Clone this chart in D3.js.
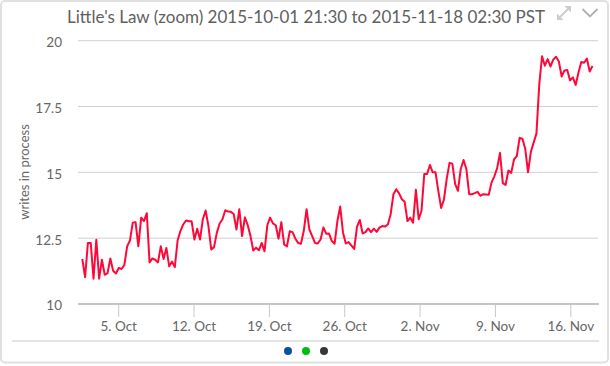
<!DOCTYPE html>
<html>
<head>
<meta charset="utf-8">
<script src="https://cdn.jsdelivr.net/npm/d3@7"></script>
<style>
  html, body { margin: 0; padding: 0; background: #fff; }
  #chart { width: 610px; height: 366px; }
</style>
</head>
<body>
<div id="chart"></div>
<script>
// writes in process, one reading about every 6h15m from the first sample on
var firstSample = Date.UTC(2015, 9, 1, 16, 0)
var sampleStepHours = 6.25

var writesInProcess = [
  11.71, 11.02, 12.32, 12.32, 10.96, 12.44, 10.96, 11.68, 11.11, 11.17,
  11.73, 11.26, 11.16, 11.37, 11.33, 11.48, 12.19, 12.41, 13.09, 13.11,
  12.19, 13.28, 13.15, 13.45, 11.58, 11.73, 11.68, 11.58, 12.19, 11.71,
  12.13, 11.43, 11.61, 11.40, 12.41, 12.77, 13.02, 13.17, 13.14, 13.14,
  12.45, 12.86, 12.45, 13.22, 13.55, 12.96, 12.07, 12.16, 12.71, 13.06,
  13.22, 13.56, 13.51, 13.50, 13.42, 12.83, 13.60, 12.58, 13.29, 13.00,
  12.58, 12.03,
  12.14, 12.04, 12.32, 12.00, 12.99, 13.28, 13.06, 12.99, 12.48, 13.11,
  12.26, 12.19, 12.76, 12.73, 12.48, 12.32, 12.29, 12.77, 13.60, 12.83,
  12.58, 12.32, 12.30, 12.45, 12.91, 12.67, 12.68, 12.39, 12.29, 13.15,
  13.70, 12.71, 12.30, 12.35, 12.22, 12.09, 12.94, 13.19, 12.68, 12.73,
  12.87, 12.73, 12.86, 12.74, 12.90, 12.96, 12.94, 13.02, 13.41, 14.17,
  14.36, 14.20, 13.98, 13.88,
  13.15, 13.28, 13.09, 14.34, 13.22, 13.54, 14.94, 14.94, 15.28, 15.00,
  15.00, 14.30, 13.65, 13.96, 14.75, 15.36, 15.33, 14.56, 14.30, 15.13,
  15.47, 15.13, 14.17, 14.17, 14.21, 14.26, 14.11, 14.17, 14.16, 14.15,
  14.62, 14.85, 15.16, 15.74, 14.59, 14.52, 15.07, 14.98, 15.49, 15.62,
  16.31, 16.28, 15.90, 15.00, 15.77, 16.13, 16.47, 18.32, 19.41, 19.05,
  19.30, 19.02, 19.28, 19.39, 19.21, 18.64, 18.87, 18.89, 18.49, 18.61,
  18.32, 18.79, 19.19, 19.16, 19.32, 18.83, 19.04
]

var yTicks = [10, 12.5, 15, 17.5, 20]
var legendColors = ['#0b4fa6', '#00bb11', '#383838']

var titleText = "Little's Law (zoom) 2015-10-01 21:30 to 2015-11-18 02:30 PST"
var yTitle = 'writes in process'

const layout = {
    width: 610,
    height: 366,
    plot: { left: 78, right: 598, top: 40.7, bottom: 304 },
    lineStart: 82.3,
    lineEnd: 592.5
}

var data = writesInProcess.map(function(v, i) {
    return { t: new Date(firstSample + i * sampleStepHours * 3600 * 1000), v: v }
})

var svg = d3.select('#chart').append('svg')
    .attr('width', layout.width)
    .attr('height', layout.height)
    .style('font-family', 'Lato, "Open Sans", sans-serif')

// panel
svg.append('rect')
    .attr('x', 1).attr('y', 1)
    .attr('width', layout.width - 3).attr('height', 361.5)
    .attr('rx', 4)
    .attr('fill', '#fff')
    .attr('stroke', '#e0e0e0')
    .attr('stroke-width', 2)

svg.append('text')
    .attr('x', 306).attr('y', 23)
    .attr('text-anchor', 'middle')
    .attr('font-size', 17)
    .attr('fill', '#606060')
    .text(titleText)

// expand + collapse icons
var icons = svg.append('g')
icons.append('line')
    .attr('x1', 560).attr('y1', 17).attr('x2', 568).attr('y2', 9)
    .attr('stroke', '#cccccc').attr('stroke-width', 2)
icons.append('path')
    .attr('d', 'M557,20 L557,13.5 L563.5,20 Z M571,6 L571,12.5 L564.5,6 Z')
    .attr('fill', '#cccccc')
icons.append('path')
    .attr('d', 'M582.5,9 L590,16.5 L597.5,9')
    .attr('fill', 'none')
    .attr('stroke', '#b0b0b0')
    .attr('stroke-width', 1.8)

var xScale = d3.scaleUtc()
    .domain(d3.extent(data, function(d) { return d.t }))
    .range([layout.lineStart, layout.lineEnd])

var yScale = d3.scaleLinear()
    .domain([10, 20])
    .range([layout.plot.bottom, layout.plot.top])

// grid
svg.append('g')
    .selectAll('line')
    .data(yTicks.slice(1))
    .enter().append('line')
    .attr('x1', layout.plot.left).attr('x2', layout.plot.right)
    .attr('y1', function(d) { return yScale(d) })
    .attr('y2', function(d) { return yScale(d) })
    .attr('stroke', '#d0d0d0')
    .attr('stroke-width', 1)

var yAxis = d3.axisLeft(yScale).tickValues(yTicks).tickSize(0).tickPadding(0)
    .tickFormat(function(d) { return d3.format('')(d) })

svg.append('g')
    .attr('transform', 'translate(62,1.5)')
    .call(yAxis)
    .call(function(g) {
        g.select('.domain').remove()
        g.selectAll('.tick text').attr('fill', '#666').attr('font-size', 13.5)
    })
    .attr('font-family', null)

svg.append('text')
    .attr('transform', 'translate(29,172) rotate(-90)')
    .attr('text-anchor', 'middle')
    .attr('font-size', 13)
    .attr('fill', '#666')
    .text(yTitle)

var xAxis = d3.axisBottom(xScale)
    .ticks(d3.utcMonday.every(1))
    .tickSize(13)
    .tickPadding(4)
    .tickFormat(d3.utcFormat('%-d. %b'))

svg.append('g')
    .attr('transform', `translate(0,${layout.plot.bottom})`)
    .call(xAxis)
    .call(function(g) {
        g.select('.domain').remove()
        g.selectAll('.tick line').attr('stroke', '#c8c8c8')
        g.selectAll('.tick text').attr('fill', '#666').attr('font-size', 13.5)
    })
    .attr('font-family', null)

svg.append('line')
    .attr('x1', layout.plot.left).attr('x2', layout.plot.right + 1)
    .attr('y1', layout.plot.bottom).attr('y2', layout.plot.bottom)
    .attr('stroke', '#c4c4c4')
    .attr('stroke-width', 2)

var line = d3.line()
    .x(function(d) { return xScale(d.t) })
    .y(function(d) { return yScale(d.v) })

svg.append('path')
    .datum(data)
    .attr('d', line)
    .attr('fill', 'none')
    .attr('stroke', '#ff0838')
    .attr('stroke-width', 2)
    .attr('stroke-linejoin', 'round')

// footer
svg.append('line')
    .attr('x1', 12).attr('x2', 599)
    .attr('y1', 341).attr('y2', 341)
    .attr('stroke', '#c8c8c8')
    .attr('stroke-width', 1)

svg.append('g')
    .selectAll('circle')
    .data(legendColors)
    .enter().append('circle')
    .attr('cx', function(d, i) { return 288 + i * 18 })
    .attr('cy', 351)
    .attr('r', 4)
    .attr('fill', function(d) { return d })
</script>
</body>
</html>
